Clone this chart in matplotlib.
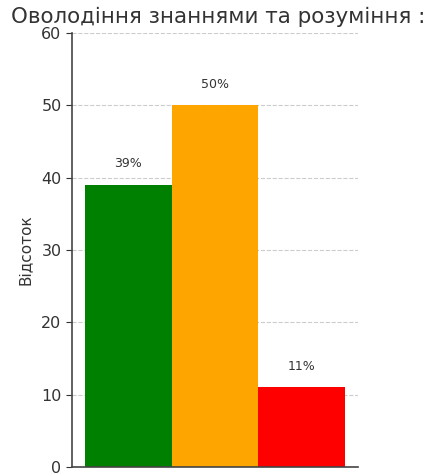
import matplotlib
matplotlib.use('Agg')
import matplotlib.pyplot as plt

# дані з діаграми
categories = ['Високий', 'Середній', 'Низький']
values = [39, 50, 11]
colors = ['green', 'orange', 'red']
title = 'Оволодіння знаннями та розуміння :'

fig = plt.figure(figsize=(4.35, 4.73), dpi=100)
ax = fig.add_axes([72 / 435, 6 / 473, 286 / 435, 434 / 473])

x = range(len(values))
ax.bar(x, values, width=1.0, color=colors, zorder=2)
for i, v in zip(x, values):
    ax.text(i, v + 2, f'{v}%', ha='center', va='bottom', fontsize=9, color='#333333')

ax.set_ylim(0, 60)
ax.set_yticks([0, 10, 20, 30, 40, 50, 60])
ax.set_xticks([])
ax.yaxis.grid(True, linestyle='--', color='#cccccc', linewidth=0.8, zorder=0)
ax.set_axisbelow(True)
ax.tick_params(axis='y', labelsize=11.5, colors='#333333', length=4)
ax.set_ylabel('Відсоток', fontsize=11, color='#333333', labelpad=6)
for s in ['top', 'right']:
    ax.spines[s].set_visible(False)
for s in ['left', 'bottom']:
    ax.spines[s].set_color('#444444')
    ax.spines[s].set_linewidth(1.2)

fig.text(11 / 435, 1 - 17 / 473, title, ha='left', va='center', fontsize=15.4, color='#333333')

plt.savefig('out.png', dpi=100)
